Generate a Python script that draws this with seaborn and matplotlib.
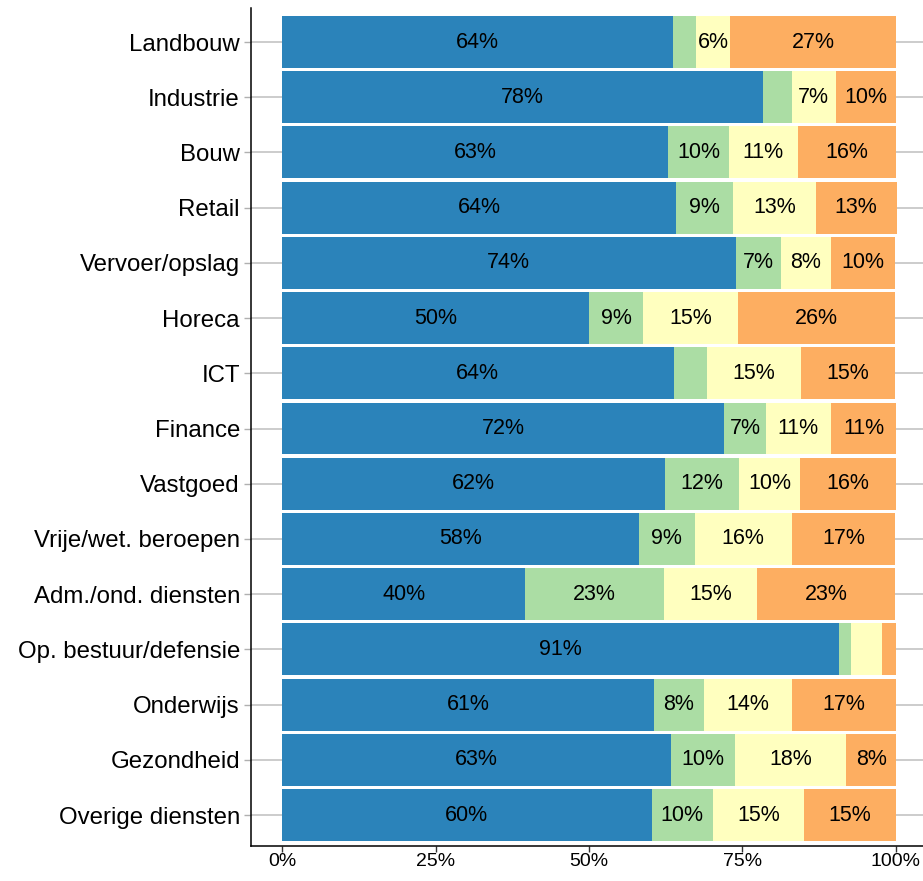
"""
Gestapelde horizontale balken per sector (aandelen in %)
"""

import numpy as np
import matplotlib.pyplot as plt
import seaborn as sns

sectoren = [
    "Landbouw", "Industrie", "Bouw", "Retail", "Vervoer/opslag", "Horeca", "ICT",
    "Finance", "Vastgoed", "Vrije/wet. beroepen", "Adm./ond. diensten",
    "Op. bestuur/defensie", "Onderwijs", "Gezondheid", "Overige diensten",
]

# vier categorieën, van links naar rechts
blauw = [63.7, 78.3, 62.9, 64.2, 73.9, 50.0, 63.8, 72.0, 62.4, 58.1, 39.6, 90.7, 60.6, 63.4, 60.2]
groen = [3.7, 4.7, 9.9, 9.3, 7.3, 8.8, 5.4, 6.8, 12.1, 9.1, 22.6, 2.0, 8.1, 10.4, 10.0]
geel = [5.6, 7.2, 11.2, 13.4, 8.2, 15.4, 15.3, 10.6, 9.9, 15.8, 15.1, 5.0, 14.4, 18.1, 14.8]
oranje = [27.0, 9.8, 16.0, 13.2, 10.4, 25.7, 15.4, 10.6, 15.6, 16.9, 22.6, 2.3, 16.9, 8.1, 15.0]

kleuren = ["#2b83ba", "#abdda4", "#ffffbf", "#fdae61"]
x_ticks = [0, 25, 50, 75, 100]
x_labels = ["0%", "25%", "50%", "75%", "100%"]

sns.set_style("white")
plt.rcParams["font.family"] = ["Liberation Sans", "DejaVu Sans"]

fig = plt.figure(figsize=(9.23, 8.81), dpi=100)
W, H = 923, 881
ax = fig.add_axes([251 / W, 1 - 846 / H, (W - 251) / W, (846 - 8) / H])

series = np.array([blauw, groen, geel, oranje])
cum = np.cumsum(series, axis=0)

# van achter naar voren: cumulatieve totalen, grootste eerst
for i in range(3, -1, -1):
    sns.barplot(x=cum[i], y=sectoren, orient="h", color=kleuren[i],
                saturation=1, width=0.94, linewidth=0, ax=ax, zorder=2)

# labels in de segmenten
for i in range(4):
    for j, naam in enumerate(sectoren):
        v = series[i, j]
        if round(v) < 6:
            continue
        xm = cum[i, j] - v / 2
        ax.text(xm, j, f"{round(v):.0f}%", ha="center", va="center",
                fontsize=15.5, color="black", zorder=3)

ax.set_xlim(-5.05, 104.4)
ax.set_ylim(len(sectoren) - 0.44, -0.616)
ax.set_xticks(x_ticks)
ax.set_xticklabels(x_labels, fontsize=14, color="black")
ax.set_yticklabels(sectoren, fontsize=17.3, color="black")
ax.set_xlabel("")
ax.set_ylabel("")

ax.yaxis.grid(True, color="#c4c4c4", linewidth=1.2, zorder=0)
ax.xaxis.grid(False)
ax.set_axisbelow(True)

ax.tick_params(axis="y", length=5, width=1, color="#b0b0b0", pad=3, left=True)
ax.tick_params(axis="x", length=4, width=1, color="#333333", pad=1, bottom=True)

sns.despine(ax=ax, top=True, right=True)
for s in ["left", "bottom"]:
    ax.spines[s].set_color("black")
    ax.spines[s].set_linewidth(1.1)

fig.savefig("out.png", dpi=100)
